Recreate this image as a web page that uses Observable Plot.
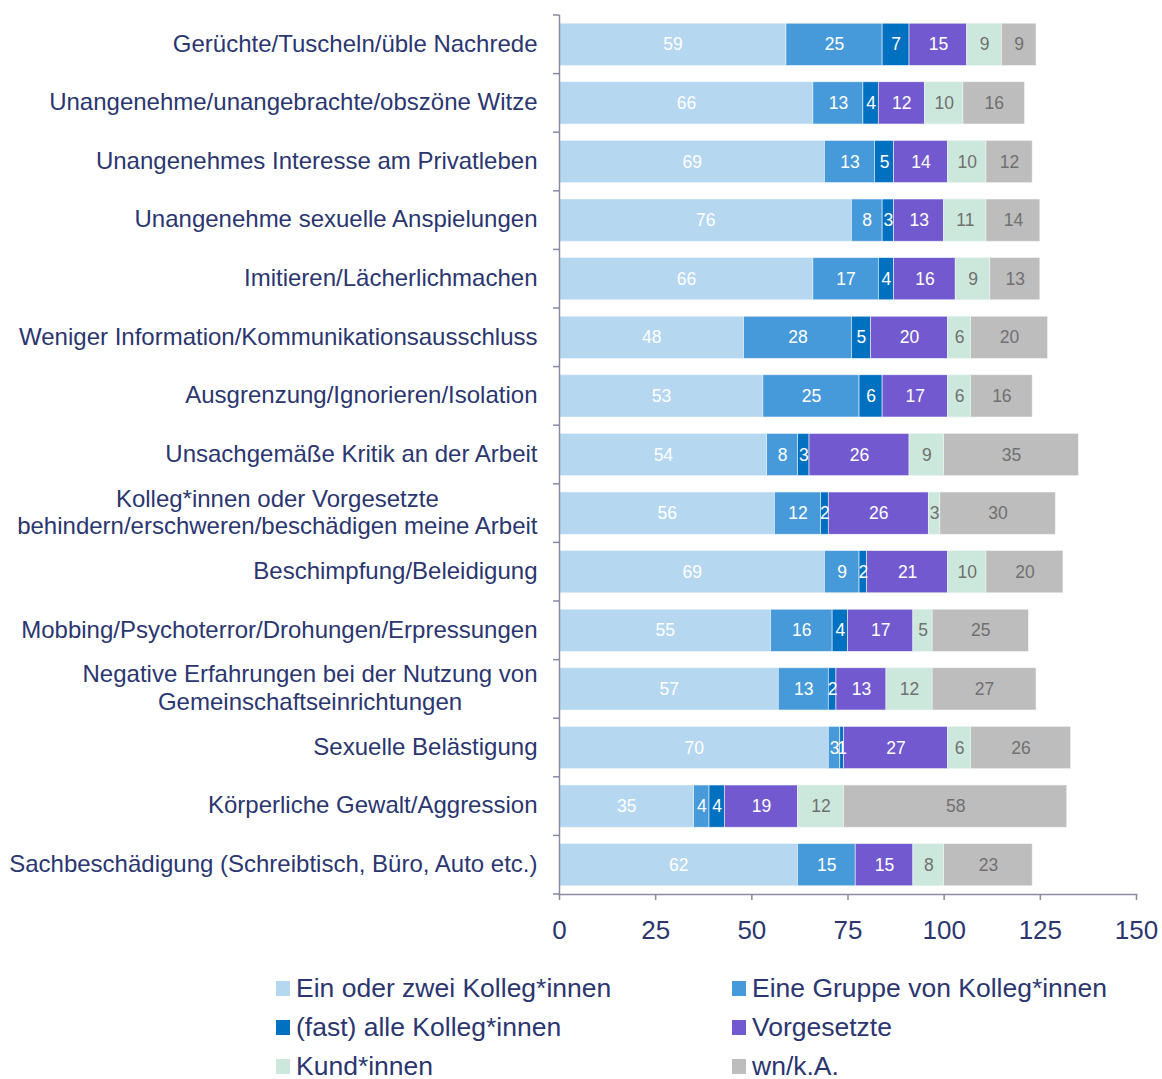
<!DOCTYPE html>
<html>
<head>
<meta charset="utf-8">
<script src="https://cdn.jsdelivr.net/npm/d3@7"></script>
<script src="https://cdn.jsdelivr.net/npm/@observablehq/plot@0.6"></script>
<style>
  html, body { margin: 0; padding: 0; background: #fff; }
  body { width: 1162px; font-family: "Liberation Sans", Arial, Helvetica, sans-serif; }
  #chart svg { display: block; }
  #legend { position: relative; height: 124px; }
  .item { position: absolute; display: flex; align-items: center; font-size: 26.5px; line-height: 1; color: #2b3670; white-space: nowrap; }
  .sw { width: 14px; height: 15px; margin-right: 6px; display: inline-block; }
</style>
</head>
<body>
<div id="chart"></div>
<div id="legend"></div>
<script>
const categories = [
  "Gerüchte/Tuscheln/üble Nachrede",
  "Unangenehme/unangebrachte/obszöne Witze",
  "Unangenehmes Interesse am Privatleben",
  "Unangenehme sexuelle Anspielungen",
  "Imitieren/Lächerlichmachen",
  "Weniger Information/Kommunikationsausschluss",
  "Ausgrenzung/Ignorieren/Isolation",
  "Unsachgemäße Kritik an der Arbeit",
  "Kolleg*innen oder Vorgesetzte\nbehindern/erschweren/beschädigen meine Arbeit",
  "Beschimpfung/Beleidigung",
  "Mobbing/Psychoterror/Drohungen/Erpressungen",
  "Negative Erfahrungen bei der Nutzung von\nGemeinschaftseinrichtungen",
  "Sexuelle Belästigung",
  "Körperliche Gewalt/Aggression",
  "Sachbeschädigung (Schreibtisch, Büro, Auto etc.)"
];
const seriesNames = [
  "Ein oder zwei Kolleg*innen",
  "Eine Gruppe von Kolleg*innen",
  "(fast) alle Kolleg*innen",
  "Vorgesetzte",
  "Kund*innen",
  "wn/k.A."
];
const einOderZwei   = [59, 66, 69, 76, 66, 48, 53, 54, 56, 69, 55, 57, 70, 35, 62];
const gruppe        = [25, 13, 13,  8, 17, 28, 25,  8, 12,  9, 16, 13,  3,  4, 15];
const fastAlle      = [ 7,  4,  5,  3,  4,  5,  6,  3,  2,  2,  4,  2,  1,  4,  0];
const vorgesetzte   = [15, 12, 14, 13, 16, 20, 17, 26, 26, 21, 17, 13, 27, 19, 15];
const kunden        = [ 9, 10, 10, 11,  9,  6,  6,  9,  3, 10,  5, 12,  6, 12,  8];
const wnKA          = [ 9, 16, 12, 14, 13, 20, 16, 35, 30, 20, 25, 27, 26, 58, 23];
const xTicks = [0, 25, 50, 75, 100, 125, 150];
const colors = ["#b6d7f0", "#479ad9", "#0070c0", "#7359cf", "#cce8dc", "#bdbdbd"];
const labelColors = ["#ffffff", "#ffffff", "#ffffff", "#ffffff", "#707070", "#707070"];

const seriesValues = [einOderZwei, gruppe, fastAlle, vorgesetzte, kunden, wnKA];
const data = [];
categories.forEach((cat, i) => {
  seriesNames.forEach((s, j) => {
    data.push({cat, series: s, value: seriesValues[j][i], j});
  });
});

const navy = "#2b3670";
const axisGray = "#8a8aa3";

const plot = Plot.plot({
  width: 1162,
  height: 955,
  marginLeft: 559,
  marginRight: 26,
  marginTop: 15,
  marginBottom: 61,
  style: {fontFamily: "'Liberation Sans', Arial, Helvetica, sans-serif", background: "#fff"},
  x: {domain: [0, 150], label: null},
  y: {domain: categories, paddingInner: 0.28, paddingOuter: 0.14, round: false, label: null},
  color: {domain: seriesNames, range: colors},
  marks: [
    Plot.barX(data, Plot.stackX({
      x: "value", y: "cat", z: "series", fill: "series",
      stroke: "#eef3f8", strokeWidth: 0.6
    })),
    Plot.text(data, Plot.stackX({
      x: "value", y: "cat", z: "series",
      text: d => d.value > 0 ? String(d.value) : "",
      fill: d => labelColors[d.j],
      fontSize: 17.5
    })),
    Plot.frame({anchor: "left", stroke: axisGray, strokeWidth: 1.5}),
    Plot.frame({anchor: "bottom", stroke: axisGray, strokeWidth: 1.5}),
    Plot.axisX({
      ticks: xTicks, tickFormat: d => String(d), label: null,
      tickSize: 6, tickPadding: 20, fontSize: 26,
      stroke: axisGray, fill: navy, strokeWidth: 1.5
    }),
    Plot.axisY({
      tickSize: 0, tickPadding: 22, fontSize: 24, lineHeight: 1.15, label: null,
      fill: navy, dy: -2
    })
  ]
});

document.getElementById("chart").appendChild(plot);

// Center multi-line category labels within their block (right-aligned block)
d3.select(plot).selectAll('g[aria-label="y-axis tick label"] text').each(function() {
  const tspans = d3.select(this).selectAll("tspan").nodes();
  if (tspans.length > 1) {
    const widths = tspans.map(t => t.getComputedTextLength());
    const maxW = d3.max(widths);
    d3.select(this).attr("text-anchor", "middle");
    tspans.forEach(t => t.setAttribute("x", -maxW / 2));
  }
});

// Category boundary ticks on the y axis, using Plot's y scale
const ys = plot.scale("y");
const step = ys.step;
const x0 = plot.scale("x").apply(0);
const boundaries = categories.map(c => ys.apply(c) - step * 0.14);
boundaries.push(ys.apply(categories[categories.length - 1]) + ys.bandwidth + step * 0.14);
const g = d3.select(plot).append("g").attr("stroke", axisGray).attr("stroke-width", 1.5);
boundaries.forEach(b => {
  g.append("line").attr("x1", x0 - 6).attr("x2", x0).attr("y1", b).attr("y2", b);
});

// Legend
const legend = d3.select("#legend");
const pos = [[276, 0], [732, 0], [276, 39], [732, 39], [276, 78], [732, 78]];
seriesNames.forEach((s, i) => {
  const it = legend.append("div").attr("class", "item")
    .style("left", pos[i][0] + "px").style("top", (pos[i][1] + 13) + "px")
    .style("height", "40px");
  it.append("span").attr("class", "sw").style("background", colors[i]);
  it.append("span").text(s);
});
</script>
</body>
</html>
